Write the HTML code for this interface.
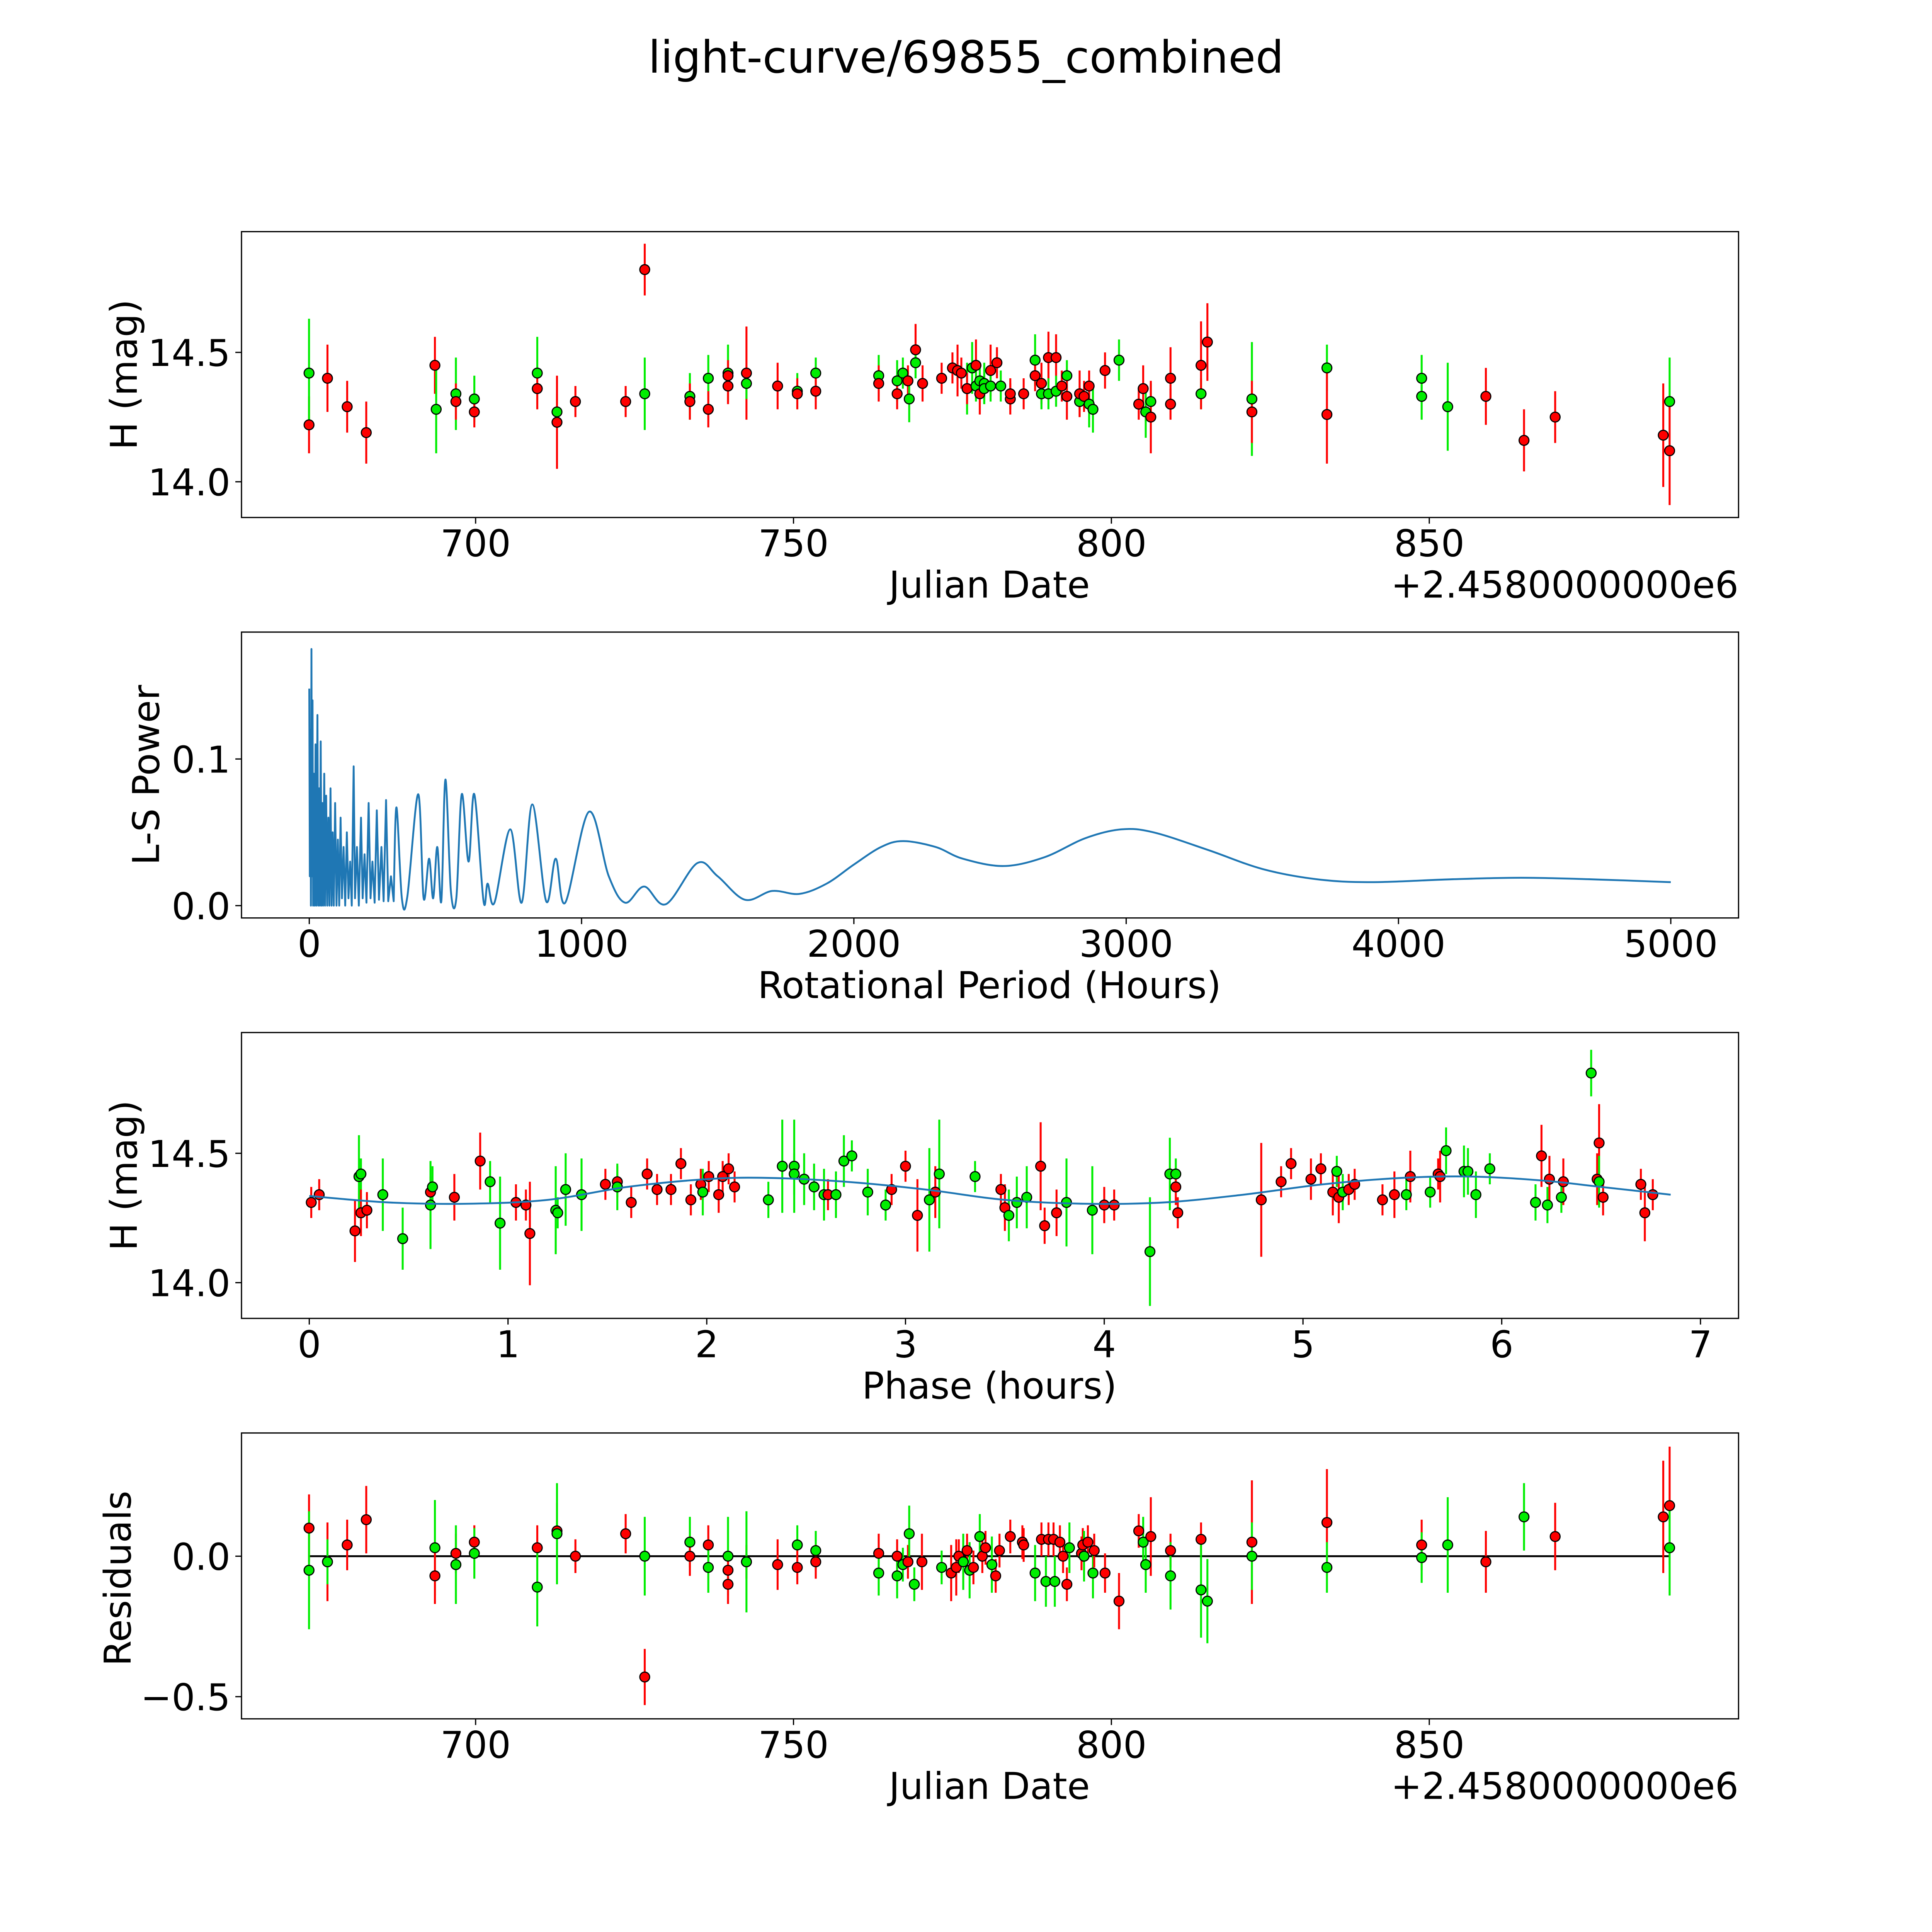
<!DOCTYPE html>
<html><head><meta charset="utf-8"><style>
html,body{margin:0;padding:0;background:#fff;overflow:hidden;}
svg{display:block;width:100vw;height:100vw;}
text{font-family:"DejaVu Sans","Liberation Sans",sans-serif;fill:#000;}
</style></head><body>
<svg id="fig" xmlns="http://www.w3.org/2000/svg" viewBox="0 0 1568 1568" preserveAspectRatio="xMinYMin meet">
<rect x="0" y="0" width="1568" height="1568" fill="#fff"/>
<text x="784" y="59" font-size="36" text-anchor="middle">light-curve/69855_combined</text>
<g id="g1"></g>
<g id="g2"></g>
<g id="g3"></g>
<g id="g4"></g>
</svg>
<script>
// ---- Panel 1: light curve (date, mag, err, color)
const lcDates=[673.8,673.8,676.7,679.8,682.8,693.6,693.8,696.9,696.9,699.8,699.8,709.7,709.7,712.8,712.8,715.7,723.6,726.6,726.6,733.7,733.7,736.6,736.6,739.7,739.7,739.7,742.6,742.6,747.5,750.6,750.6,753.5,753.5,763.4,763.4,766.3,766.3,767.2,768.0,768.2,769.2,769.2,770.3,773.3,775.0,775.8,776.4,777.3,777.3,778.1,778.7,778.7,779.3,779.3,780.0,780.0,781.0,781.0,782.0,782.6,784.1,784.1,786.2,788.0,788.0,789.0,789.0,790.1,790.1,791.3,791.3,792.2,793.0,793.0,795.0,795.0,795.7,796.5,796.5,797.1,799.0,801.2,804.3,805.0,805.4,806.2,806.2,809.3,809.3,814.1,814.1,815.1,822.1,822.1,833.9,833.9,848.8,848.8,852.9,858.9,864.9,869.8,886.8,887.8,887.8];
const lcMags=[14.22,14.42,14.40,14.29,14.19,14.45,14.28,14.34,14.31,14.32,14.27,14.42,14.36,14.27,14.23,14.31,14.31,14.82,14.34,14.33,14.31,14.40,14.28,14.42,14.41,14.37,14.42,14.38,14.37,14.35,14.34,14.42,14.35,14.41,14.38,14.39,14.34,14.42,14.39,14.32,14.51,14.46,14.38,14.40,14.44,14.43,14.42,14.36,14.36,14.44,14.45,14.37,14.34,14.39,14.38,14.36,14.43,14.37,14.46,14.37,14.32,14.34,14.34,14.47,14.41,14.38,14.34,14.48,14.34,14.48,14.35,14.37,14.41,14.33,14.31,14.34,14.33,14.30,14.37,14.28,14.43,14.47,14.30,14.36,14.27,14.31,14.25,14.30,14.40,14.34,14.45,14.54,14.32,14.27,14.44,14.26,14.33,14.40,14.29,14.33,14.16,14.25,14.18,14.31,14.12];
const lcErrs=[0.11,0.21,0.13,0.10,0.12,0.11,0.17,0.14,0.07,0.09,0.06,0.14,0.08,0.07,0.18,0.06,0.06,0.10,0.14,0.09,0.07,0.09,0.07,0.11,0.06,0.07,0.18,0.06,0.09,0.07,0.06,0.06,0.07,0.08,0.07,0.08,0.06,0.06,0.06,0.09,0.10,0.06,0.07,0.06,0.06,0.10,0.06,0.10,0.06,0.10,0.10,0.06,0.08,0.06,0.08,0.06,0.10,0.06,0.06,0.06,0.06,0.06,0.06,0.10,0.06,0.08,0.06,0.10,0.06,0.09,0.06,0.06,0.06,0.09,0.06,0.09,0.06,0.09,0.06,0.09,0.07,0.08,0.06,0.09,0.10,0.07,0.14,0.06,0.12,0.06,0.17,0.15,0.22,0.12,0.09,0.19,0.09,0.09,0.17,0.11,0.12,0.10,0.20,0.17,0.21];
const lcColors="rgrrrrggrgrgrgrrrrggrgrgrrrgrgrgrgrgrgrgrgrrrrrgrgrgrgggrgrgrrrgrrgrgrgrgrgrrgrgrgrrggrrrgrrgrgrgggrrrrgrrgrgrgrrgrrg";
// ---- Panel 2: periodogram (period hours, power)
const lsPeriods=[0,2,4,6,8,10,12,14,17,20,23,26,30,33,36,39,42,45,48,51,55,58,62,66,70,74,78,82,86,90,95,100,105,110,115,120,126,132,138,144,150,156,163,168,175,182,190,196,203,210,218,225,232,240,248,256,265,273,282,290,300,310,
 320,340,360,400,420,440,455,470,485,500,520,540,560,585,606,640,655,680,738,780,819,870,905,940,1027,1100,1160,1230,1310,1425,1500,1600,1700,1800,1900,2000,2100,2181,2300,2400,2550,2700,2850,2982,3100,3300,3500,3700,3900,4200,4450,4700,5000];
const lsPower=[0.148,0.02,0.12,0,0.175,0.02,0.14,0,0.09,0,0.11,0,0.13,0,0.08,0,0.112,0,0.07,0,0.09,0,0.075,0,0.06,0,0.08,0,0.05,0,0.07,0,0.045,0,0.06,0.005,0.04,0,0.05,0.005,0.03,0,0.095,0.005,0.04,0,0.06,0.005,0.035,0.002,0.07,0.005,0.03,0.002,0.065,0.004,0.04,0.003,0.072,0.003,0.02,0.003,
 0.067,0.005,0.006,0.076,0.005,0.032,0.005,0.04,0.003,0.086,0.01,0.005,0.076,0.03,0.076,0.003,0.015,0.002,0.052,0.002,0.069,0.003,0.032,0.002,0.064,0.02,0.002,0.013,0.001,0.029,0.02,0.004,0.01,0.008,0.015,0.028,0.04,0.044,0.04,0.032,0.027,0.033,0.046,0.052,0.05,0.038,0.025,0.018,0.016,0.018,0.019,0.018,0.016];
const lsDenseCount=62;
// ---- Panel 3: phase-folded
const phPhase=[0.01,0.05,0.23,0.25,0.26,0.26,0.29,0.37,0.47,0.61,0.62,0.61,0.73,0.86,0.91,0.96,1.04,1.09,1.11,1.24,1.25,1.29,1.37,1.49,1.55,1.55,1.62,1.70,1.75,1.82,1.87,1.92,1.97,1.98,2.01,2.06,2.08,2.11,2.14,2.31,2.38,2.44,2.44,2.49,2.54,2.59,2.61,2.65,2.69,2.73,2.81,2.90,2.93,3.00,3.06,3.12,3.15,3.17,3.35,3.48,3.50,3.52,3.56,3.61,3.68,3.70,3.76,3.81,3.94,4.00,4.05,4.23,4.33,4.36,4.36,4.37,4.79,4.89,4.94,5.04,5.09,5.15,5.17,5.18,5.20,5.23,5.26,5.40,5.46,5.52,5.54,5.64,5.68,5.69,5.72,5.81,5.83,5.87,5.94,6.17,6.20,6.23,6.24,6.30,6.31,6.45,6.48,6.49,6.49,6.51,6.70,6.72,6.76];
const phMags=[14.31,14.34,14.20,14.41,14.42,14.27,14.28,14.34,14.17,14.35,14.37,14.30,14.33,14.47,14.39,14.23,14.31,14.30,14.19,14.28,14.27,14.36,14.34,14.38,14.39,14.37,14.31,14.42,14.36,14.36,14.46,14.32,14.38,14.35,14.41,14.34,14.41,14.44,14.37,14.32,14.45,14.45,14.42,14.40,14.37,14.34,14.34,14.34,14.47,14.49,14.35,14.30,14.36,14.45,14.26,14.32,14.35,14.42,14.41,14.36,14.29,14.26,14.31,14.33,14.45,14.22,14.27,14.31,14.28,14.30,14.30,14.12,14.42,14.42,14.37,14.27,14.32,14.39,14.46,14.40,14.44,14.35,14.43,14.33,14.35,14.36,14.38,14.32,14.34,14.34,14.41,14.35,14.42,14.41,14.51,14.43,14.43,14.34,14.44,14.31,14.49,14.30,14.40,14.33,14.39,14.81,14.40,14.54,14.39,14.33,14.38,14.27,14.34];
const phErrs=[0.06,0.06,0.12,0.16,0.06,0.09,0.07,0.14,0.12,0.06,0.08,0.17,0.09,0.11,0.08,0.18,0.07,0.06,0.20,0.17,0.06,0.14,0.14,0.06,0.06,0.09,0.06,0.06,0.06,0.06,0.06,0.06,0.06,0.09,0.06,0.07,0.06,0.06,0.06,0.07,0.18,0.18,0.08,0.10,0.09,0.10,0.06,0.09,0.10,0.06,0.09,0.06,0.06,0.06,0.14,0.20,0.10,0.21,0.06,0.06,0.09,0.10,0.10,0.12,0.17,0.07,0.09,0.17,0.17,0.07,0.06,0.21,0.14,0.06,0.07,0.06,0.22,0.06,0.06,0.08,0.06,0.09,0.06,0.10,0.07,0.06,0.06,0.06,0.09,0.06,0.10,0.06,0.06,0.10,0.09,0.10,0.09,0.09,0.06,0.07,0.12,0.07,0.09,0.06,0.09,0.09,0.10,0.15,0.10,0.07,0.06,0.11,0.06];
const phColors="rrrggrrggrggrrggrrrggggrrgrrrrrrrgrrrrrgggggggrgggggrrrgrggrrgggrrrggrrgggrrrrrrrrgrgrrrrgrgrrggggggrgrgrgrrgrrrrr";
const modelPhase=[0,0.4,0.8,1.2,1.6,2.0,2.3,2.7,3.1,3.5,3.9,4.3,4.7,5.1,5.5,5.85,6.2,6.5,6.85];
const modelMag=[14.335,14.31,14.305,14.32,14.37,14.40,14.405,14.39,14.36,14.32,14.305,14.31,14.34,14.38,14.405,14.41,14.395,14.37,14.34];
// ---- Panel 4: residuals
const resDates=[673.8,673.8,676.7,676.7,679.8,682.8,693.6,693.6,696.9,696.9,699.8,699.8,709.7,709.7,712.8,712.8,715.7,723.6,726.6,726.6,733.7,733.7,736.6,736.6,739.7,739.7,739.7,742.6,742.6,747.5,750.6,750.6,753.5,753.5,763.4,763.4,766.3,766.3,767.2,768.0,768.2,769.0,770.2,773.3,774.8,775.6,776.0,776.7,777.3,777.7,778.3,779.3,779.7,780.2,781.2,781.8,782.4,784.1,786.0,786.2,788.0,789.0,789.7,790.1,790.9,791.1,791.9,792.4,793.0,793.4,795.3,795.5,795.7,796.3,797.1,797.3,799.0,801.2,804.3,805.0,805.4,806.2,809.3,809.3,814.1,814.1,815.1,822.1,822.1,833.9,833.9,848.8,848.8,852.9,858.9,864.9,869.8,886.8,887.8,887.8];
const resVals=[0.10,-0.05,-0.02,-0.02,0.04,0.13,0.03,-0.07,0.01,-0.03,0.05,0.01,0.03,-0.11,0.09,0.08,0.00,0.08,-0.43,0.00,0.05,0.00,0.04,-0.04,0.00,-0.05,-0.10,-0.02,-0.02,-0.03,0.04,-0.04,0.02,-0.02,0.01,-0.06,0.00,-0.07,-0.03,-0.02,0.08,-0.10,-0.02,-0.04,-0.06,-0.04,0.00,-0.02,0.02,-0.05,-0.04,0.07,0.00,0.03,-0.03,-0.07,0.02,0.07,0.05,0.04,-0.06,0.06,-0.09,0.06,0.06,-0.09,0.05,0.00,-0.10,0.03,0.01,0.04,0.00,0.05,-0.06,0.02,-0.06,-0.16,0.09,0.05,-0.03,0.07,0.02,-0.07,0.06,-0.12,-0.16,0.05,0.00,0.12,-0.04,0.04,-0.005,0.04,-0.02,0.14,0.07,0.14,0.18,0.03];
const resErrs=[0.12,0.21,0.14,0.08,0.09,0.12,0.17,0.10,0.07,0.14,0.06,0.09,0.08,0.14,0.10,0.18,0.06,0.07,0.10,0.14,0.09,0.07,0.07,0.09,0.14,0.06,0.07,0.06,0.18,0.09,0.07,0.06,0.07,0.06,0.07,0.08,0.06,0.08,0.06,0.06,0.10,0.06,0.10,0.06,0.10,0.10,0.06,0.10,0.06,0.10,0.06,0.08,0.06,0.06,0.10,0.06,0.06,0.06,0.06,0.06,0.10,0.06,0.09,0.06,0.06,0.09,0.06,0.06,0.06,0.09,0.06,0.06,0.09,0.06,0.09,0.06,0.07,0.10,0.06,0.09,0.10,0.14,0.06,0.12,0.06,0.17,0.15,0.22,0.12,0.19,0.09,0.09,0.09,0.17,0.11,0.12,0.12,0.20,0.21,0.17];
const resColors="rgrgrrgrrgrgrgrgrrrggrrggrrrgrgrgrrgrggrggrgrrrgrgrgrrgrrrrrgrgrrgrrrgrrgrgrrrrggrrgrggrgrgrggrgrrrgr";

const NS="http://www.w3.org/2000/svg";
function mk(parent,tag,attrs,txt){const e=document.createElementNS(NS,tag);for(const k in attrs)e.setAttribute(k,attrs[k]);if(txt!==undefined)e.textContent=txt;parent.appendChild(e);return e;}
const X1=d=>386+(d-700)*5.16, Y1=m=>286-(m-14.5)*210;
const X2=p=>251+p*0.221, Y2=v=>735-v*1190;
const X3=p=>251+p*161.3, Y3=m=>936-(m-14.5)*210;
const X4=X1, Y4=r=>1263-r*228;
const L=196,R=1411;
const RED="#ff0000",GRN="#00ee00";
const FS=30;

function frame(g,top,bot){
  const f=mk(g,'rect',{x:L,y:top,width:R-L,height:bot-top,fill:'none',stroke:'#000','stroke-width':1});
  
  
}
function xticks(g,bot,vals,fx,labels){
  vals.forEach((v,i)=>{const x=fx(v);
    const t=mk(g,'line',{x1:x,x2:x,y1:bot,y2:bot+5,stroke:'#000','stroke-width':1});
    
    
    const l=mk(g,'text',{x:x,y:bot+31.5,'font-size':FS,'text-anchor':'middle'},labels[i]);
    
    });
}
function yticks(g,vals,fy,labels){
  vals.forEach((v,i)=>{const y=fy(v);
    const t=mk(g,'line',{x1:L-5,x2:L,y1:y,y2:y,stroke:'#000','stroke-width':1});
    
    
    const l=mk(g,'text',{x:L-9,y:y+11,'font-size':FS,'text-anchor':'end'},labels[i]);
    
    });
}
function label(g,x,y,txt,rot,name){
  const a={x:x,y:y,'font-size':FS,'text-anchor':'middle'};
  if(rot)a.transform=`rotate(-90 ${x} ${y})`;
  const t=mk(g,'text',a,txt);
  
  
}
function points(g,xs,ys,es,cs,fx,fy){
  const eg=mk(g,'g',{});
  
  
  const pg=mk(g,'g',{});
  
  
  for(let i=0;i<xs.length;i++){
    const col=cs[i]==='g'?GRN:RED;const x=fx(xs[i]);
    const b=mk(eg,'line',{x1:x,x2:x,y1:fy(ys[i]-es[i]),y2:fy(ys[i]+es[i]),stroke:col,'stroke-width':1.6});
    
    
  }
  for(let i=0;i<xs.length;i++){
    const col=cs[i]==='g'?GRN:RED;
    const c=mk(pg,'circle',{cx:fx(xs[i]),cy:fy(ys[i]),r:4,fill:col,stroke:'#000','stroke-width':0.9});
    
    
  }
}
function spline(pts){
  let d=`M${pts[0][0]},${pts[0][1]}`;
  for(let i=0;i<pts.length-1;i++){
    const p0=pts[Math.max(0,i-1)],p1=pts[i],p2=pts[i+1],p3=pts[Math.min(pts.length-1,i+2)];
    const c1=[p1[0]+(p2[0]-p0[0])/6,p1[1]+(p2[1]-p0[1])/6],c2=[p2[0]-(p3[0]-p1[0])/6,p2[1]-(p3[1]-p1[1])/6];
    d+=` C${c1[0]},${c1[1]} ${c2[0]},${c2[1]} ${p2[0]},${p2[1]}`;
  }
  return d;
}
// Panel 1
const g1=document.getElementById('g1');
frame(g1,188,420);
xticks(g1,420,[700,750,800,850],X1,['700','750','800','850']);
yticks(g1,[14.0,14.5],Y1,['14.0','14.5']);
points(g1,lcDates,lcMags,lcErrs,lcColors,X1,Y1);
label(g1,803,485,'Julian Date',false,'x-axis-title');
label(g1,111,304,'H (mag)',true,'y-axis-title');
(function(){const t=mk(g1,'text',{x:R,y:485,'font-size':FS,'text-anchor':'end'},'+2.4580000000e6');

})();
// Panel 2
const g2=document.getElementById('g2');
frame(g2,513,745);
xticks(g2,745,[0,1000,2000,3000,4000,5000],X2,['0','1000','2000','3000','4000','5000']);
yticks(g2,[0,0.1],Y2,['0.0','0.1']);
(function(){
  let d='';
  for(let i=0;i<lsDenseCount;i++)d+=(i?'L':'M')+X2(lsPeriods[i])+','+Y2(lsPower[i])+' ';
  const pts=[];for(let i=lsDenseCount-1;i<lsPeriods.length;i++)pts.push([X2(lsPeriods[i]),Y2(lsPower[i])]);
  const p=mk(g2,'path',{d:d+spline(pts).replace(/^M/,'L'),fill:'none',stroke:'#1f77b4','stroke-width':1.5,'stroke-linejoin':'round'});
  
  
})();
label(g2,803,810,'Rotational Period (Hours)',false,'x-axis-title');
label(g2,129,629,'L-S Power',true,'y-axis-title');
// Panel 3
const g3=document.getElementById('g3');
frame(g3,838,1070);
xticks(g3,1070,[0,1,2,3,4,5,6,7],X3,['0','1','2','3','4','5','6','7']);
yticks(g3,[14.0,14.5],Y3,['14.0','14.5']);
points(g3,phPhase,phMags,phErrs,phColors,X3,Y3);
(function(){const pts=modelPhase.map((p,i)=>[X3(p),Y3(modelMag[i])]);
const p=mk(g3,'path',{d:spline(pts),fill:'none',stroke:'#1f77b4','stroke-width':1.5});

})();
label(g3,803,1135,'Phase (hours)',false,'x-axis-title');
label(g3,111,954,'H (mag)',true,'y-axis-title');
// Panel 4
const g4=document.getElementById('g4');
frame(g4,1163,1395);
xticks(g4,1395,[700,750,800,850],X4,['700','750','800','850']);
yticks(g4,[-0.5,0.0],Y4,['\u22120.5','0.0']);
(function(){const z=mk(g4,'line',{x1:X4(resDates[0]),x2:X4(resDates[resDates.length-1]),y1:Y4(0),y2:Y4(0),stroke:'#000','stroke-width':1.5});

})();
points(g4,resDates,resVals,resErrs,resColors,X4,Y4);
label(g4,803,1460,'Julian Date',false,'x-axis-title');
label(g4,106,1281,'Residuals',true,'y-axis-title');
(function(){const t=mk(g4,'text',{x:R,y:1460,'font-size':FS,'text-anchor':'end'},'+2.4580000000e6');

})();
</script>
</body></html>
